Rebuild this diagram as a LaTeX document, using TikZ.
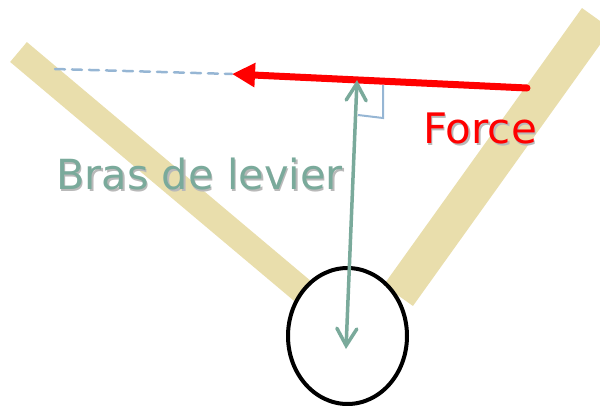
\documentclass[tikz,border=0pt]{standalone}
\usepackage{fontspec}
\usepackage{tikz}
\usetikzlibrary{arrows.meta, calc, shapes.geometric}
\newfontfamily\labelfont{DejaVu Sans}
\definecolor{barcolor}{RGB}{233, 222, 172}
\definecolor{levercolor}{RGB}{122, 170, 155}
\definecolor{guidecolor}{RGB}{150, 182, 212}
\definecolor{forcecolor}{RGB}{255, 0, 0}
\definecolor{shadecolor}{RGB}{185, 185, 185}
% texte avec ombre portee
\newcommand{\shadowed}[2]{\makebox[0pt][l]{\hspace{1.5pt}\raisebox{-2pt}{\textcolor{shadecolor}{#2}}}\textcolor{#1}{#2}}

\begin{document}
\begin{tikzpicture}[
    x=1pt, y=-1pt,
    bar/.style={draw=barcolor, line cap=butt},
    guide/.style={draw=guidecolor, line width=2.5pt, dash pattern=on 10pt off 7pt, line cap=round},
    force/.style={draw=forcecolor, line width=7pt, line cap=round, -{Triangle[length=23pt, width=23pt]}},
    lever/.style={draw=levercolor, line width=3.5pt, {Straight Barb[length=17pt, width=20pt, line cap=round]}-{Straight Barb[length=17pt, width=20pt, line cap=round]}},
    biglabel/.style={anchor=base west, inner sep=0pt, font=\labelfont\fontsize{41.5}{41.5}\selectfont}
]
\useasboundingbox (0,0) rectangle (600,405);
% bras
\coordinate (lefttop) at (18.5,52);
\coordinate (leftbot) at (302.5,291);
\coordinate (righttop) at (596.6,18.5);
\coordinate (rightbot) at (398.3,295.5);
\draw[bar, line width=26pt] (lefttop) -- (leftbot);
\draw[bar, line width=36pt] (righttop) -- (rightbot);
\node[draw, line width=4pt, ellipse, minimum width=119pt, minimum height=136pt, inner sep=0pt] (pivot) at (347.5,336) {};
% force et sa ligne d'action
\coordinate (fstart) at (527,88);
\coordinate (ftip) at (232,74);
\coordinate (gstart) at (55,69);
\draw[guide] (gstart) -- (ftip);
\draw[force] (fstart) -- (ftip);
% bras de levier
\coordinate (foot) at (357,80);
\coordinate (axis) at (346,349);
\draw[lever] (axis) -- (foot);
\coordinate (sq1) at (383,85);
\coordinate (sq2) at (383,118);
\coordinate (sq3) at (358,115);
\draw[draw=guidecolor, line width=2pt] (sq1) -- (sq2) -- (sq3);
% textes
\node[biglabel] (bras) at (56,189) {\shadowed{levercolor}{Bras de levier}};
\node[biglabel, font=\labelfont\fontsize{42}{42}\selectfont] (forcelabel) at (423,143) {\shadowed{forcecolor}{Force}};
\end{tikzpicture}
\end{document}
